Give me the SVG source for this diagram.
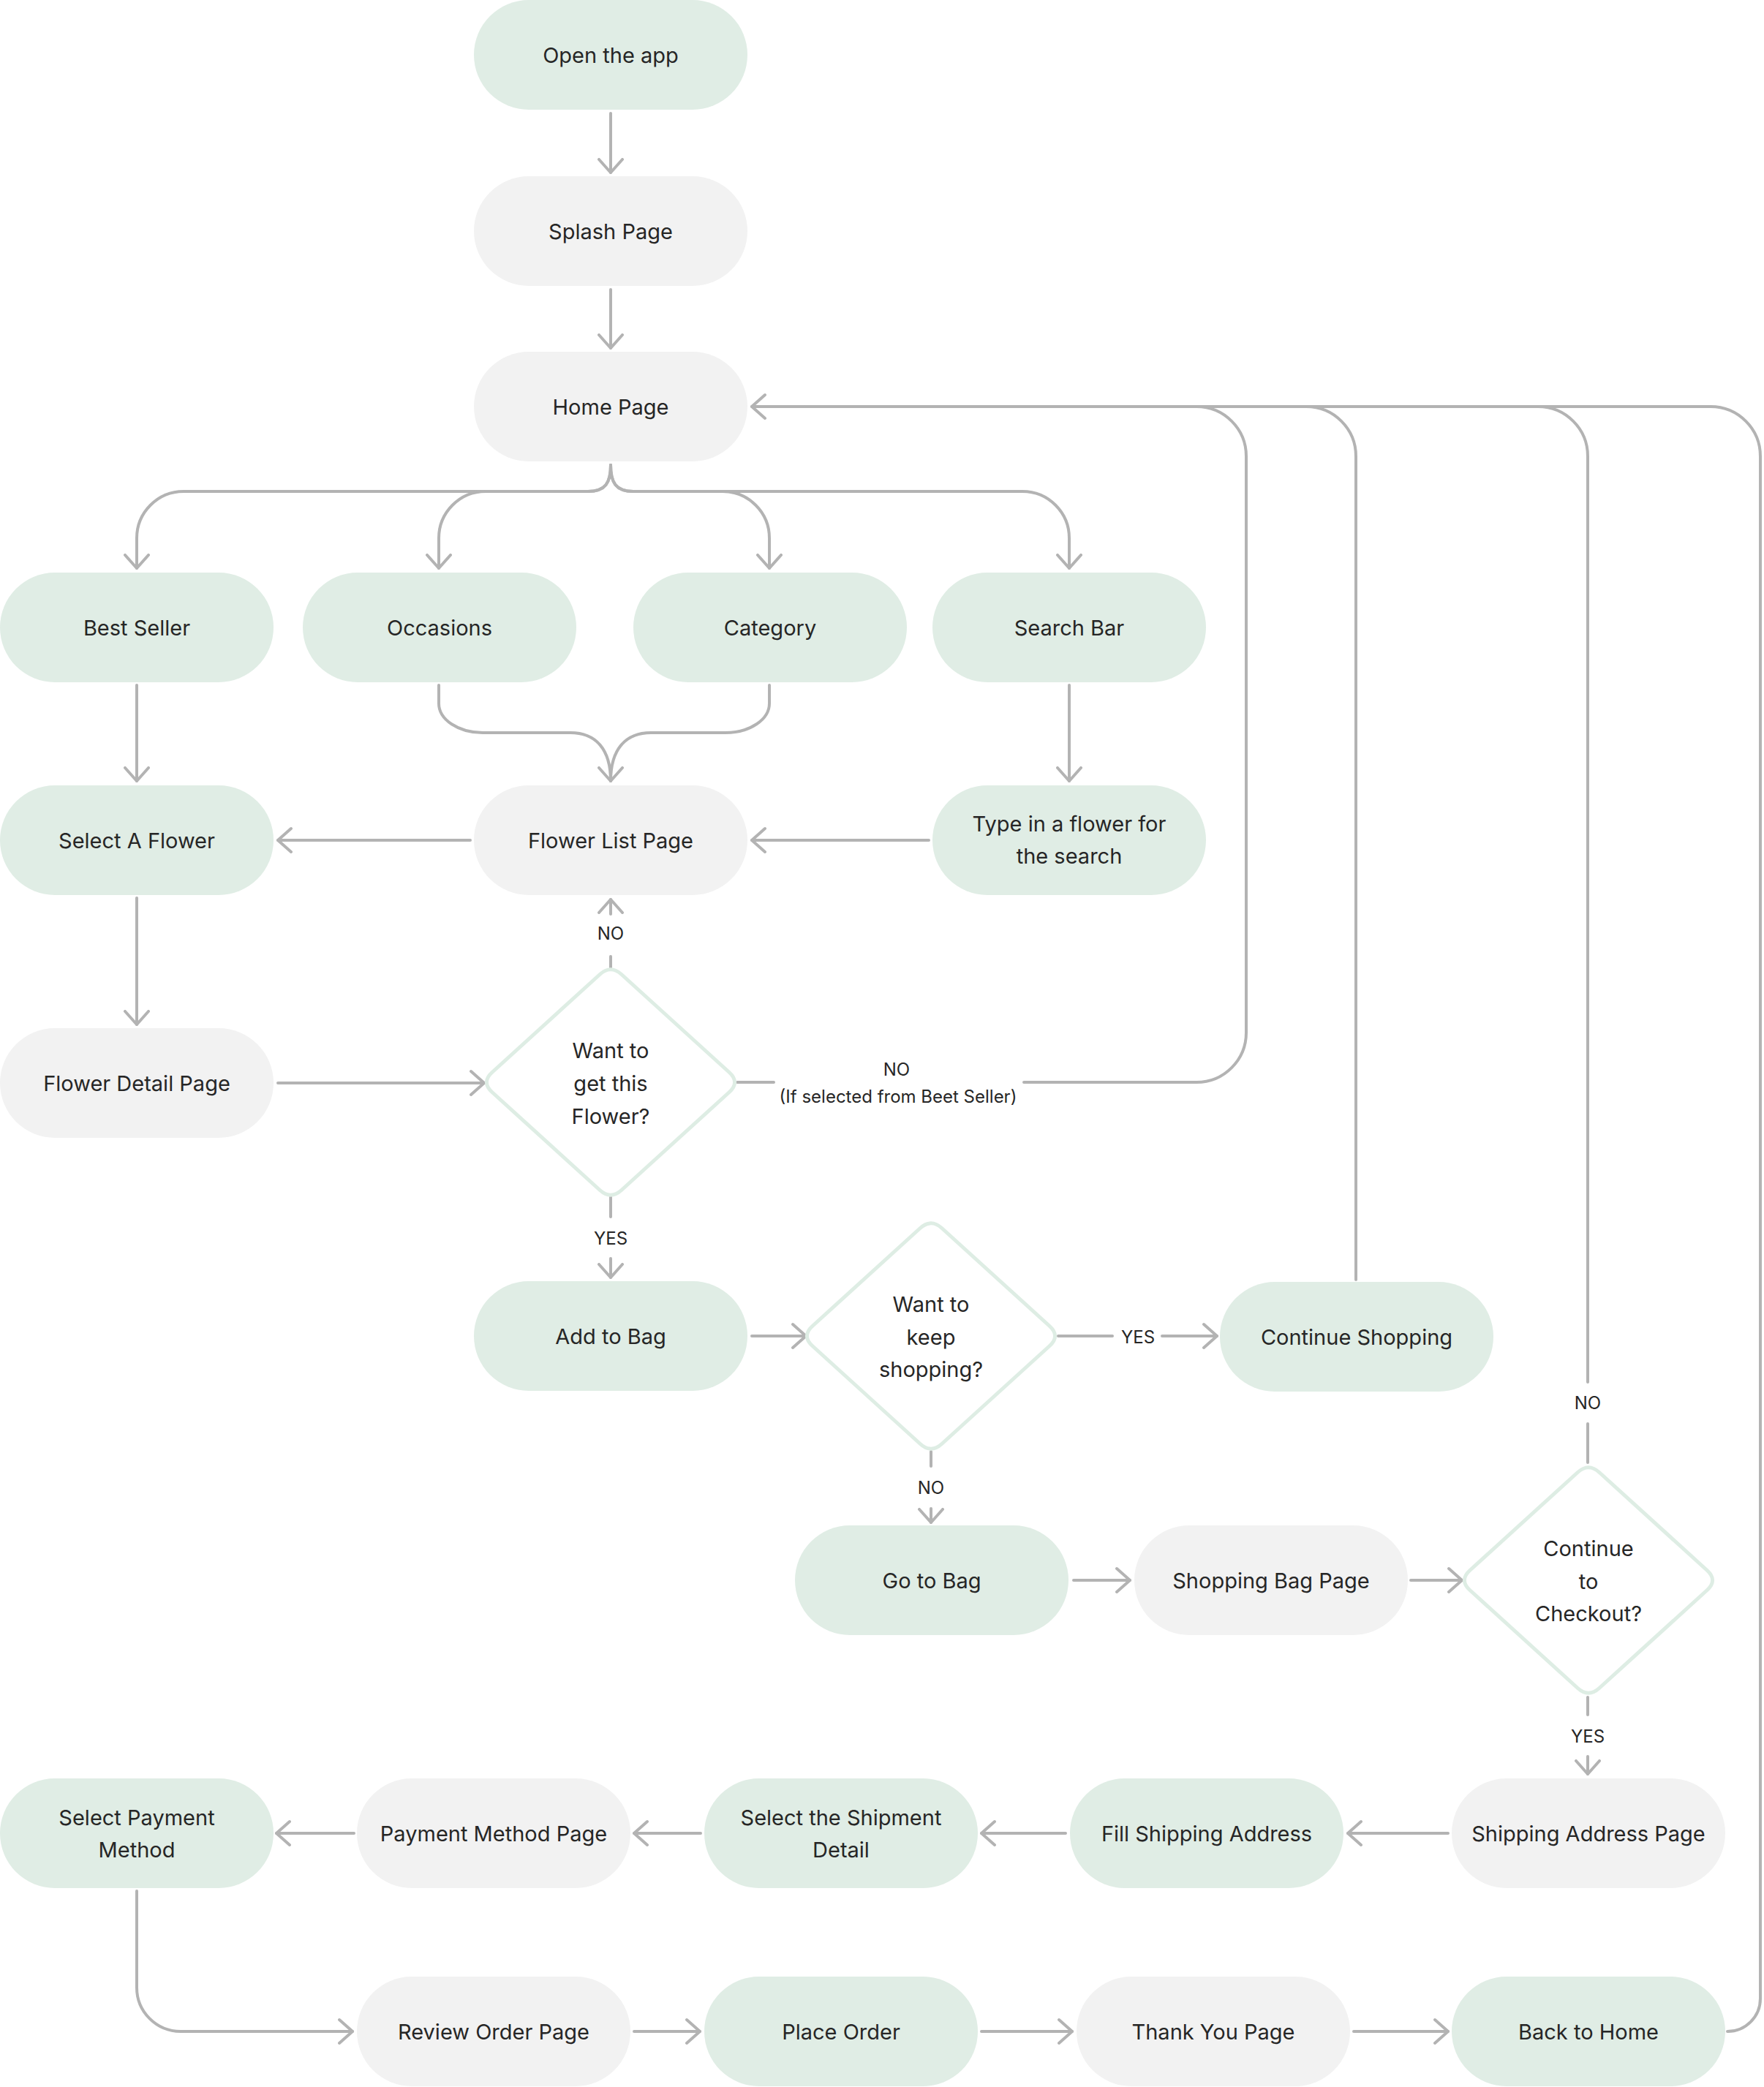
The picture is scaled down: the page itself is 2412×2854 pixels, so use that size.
<svg xmlns="http://www.w3.org/2000/svg" width="2412" height="2854" viewBox="0 0 2412 2854">
<style>
.g{fill:#e0ede5}
.w{fill:#f2f2f2}
.t{font-family:Inter,"Noto Sans","Liberation Sans",sans-serif;font-size:29px;fill:#262626;text-anchor:middle;dominant-baseline:central}
.l{font-family:Inter,"Noto Sans","Liberation Sans",sans-serif;font-size:24px;fill:#262626;text-anchor:middle;dominant-baseline:central}
.c{fill:none;stroke:#b3b3b3;stroke-width:4;stroke-linecap:round;stroke-linejoin:round}
.d{fill:#ffffff;stroke:#deede4;stroke-width:5}
</style>
<defs>
<marker id="ah" viewBox="0 0 40 40" markerWidth="40" markerHeight="40" refX="20" refY="20" orient="auto" markerUnits="userSpaceOnUse">
<path d="M2,4 L20,20 L2,36" fill="none" stroke="#b3b3b3" stroke-width="4" stroke-linecap="round" stroke-linejoin="round"/>
</marker>
<path id="dia" d="M14.8,-147.5 L162.2,-13.5 Q177,0 162.2,13.5 L14.8,147.5 Q0,161 -14.8,147.5 L-162.2,13.5 Q-177,0 -162.2,-13.5 L-14.8,-147.5 Q0,-161 14.8,-147.5 Z"/>
</defs>
<g id="connectors">
<path class="c" d="M835,155 V236" marker-end="url(#ah)"/>
<path class="c" d="M835,396 V476" marker-end="url(#ah)"/>
<path class="c" d="M835,636 C835,660 828,672 804,672 H251 A64,64 0 0 0 187,736 V777" marker-end="url(#ah)"/>
<path class="c" d="M835,636 C835,660 828,672 804,672 H664 A64,64 0 0 0 600,736 V777" marker-end="url(#ah)"/>
<path class="c" d="M835,636 C835,660 842,672 866,672 H988 A64,64 0 0 1 1052,736 V777" marker-end="url(#ah)"/>
<path class="c" d="M835,636 C835,660 842,672 866,672 H1398 A64,64 0 0 1 1462,736 V777" marker-end="url(#ah)"/>
<path class="c" d="M187,937 V1068" marker-end="url(#ah)"/>
<path class="c" d="M1462,937 V1068" marker-end="url(#ah)"/>
<path class="c" d="M600,937 V962 A60,40 0 0 0 660,1002 H780 C815,1002 835,1025 835,1068" marker-end="url(#ah)"/>
<path class="c" d="M1052,937 V962 A60,40 0 0 1 992,1002 H890 C855,1002 835,1025 835,1068"/>
<path class="c" d="M643,1149 H380" marker-end="url(#ah)"/>
<path class="c" d="M1270,1149 H1028" marker-end="url(#ah)"/>
<path class="c" d="M187,1228 V1401" marker-end="url(#ah)"/>
<path class="c" d="M380,1481 H662" marker-end="url(#ah)"/>
<path class="c" d="M835,1308 V1323"/>
<path class="c" d="M835,1250 V1230" marker-end="url(#ah)"/>
<path class="c" d="M1008,1480 H1058"/>
<path class="c" d="M1400,1480 H1636 A68,68 0 0 0 1704,1412 V624 A68,68 0 0 0 1636,556 H1028" marker-end="url(#ah)"/>
<path class="c" d="M1854,1750 V624 A68,68 0 0 0 1786,556 H1100"/>
<path class="c" d="M2171,2000 V1947"/>
<path class="c" d="M2171,1890 V624 A68,68 0 0 0 2103,556 H1100"/>
<path class="c" d="M2362,2778 A45,45 0 0 0 2407,2733 V624 A68,68 0 0 0 2339,556 H1100"/>
<path class="c" d="M835,1637 V1664"/>
<path class="c" d="M835,1721 V1747" marker-end="url(#ah)"/>
<path class="c" d="M1028,1827 H1102" marker-end="url(#ah)"/>
<path class="c" d="M1447,1827 H1521"/>
<path class="c" d="M1589,1827 H1664" marker-end="url(#ah)"/>
<path class="c" d="M1273,1985 V2005"/>
<path class="c" d="M1273,2063 V2082" marker-end="url(#ah)"/>
<path class="c" d="M1468,2161 H1545" marker-end="url(#ah)"/>
<path class="c" d="M1929,2161 H1999" marker-end="url(#ah)"/>
<path class="c" d="M2171,2321 V2345"/>
<path class="c" d="M2171,2402 V2426" marker-end="url(#ah)"/>
<path class="c" d="M1980,2507 H1843" marker-end="url(#ah)"/>
<path class="c" d="M1457,2507 H1342" marker-end="url(#ah)"/>
<path class="c" d="M958,2507 H867" marker-end="url(#ah)"/>
<path class="c" d="M484,2507 H378" marker-end="url(#ah)"/>
<path class="c" d="M187,2586 V2718 A60,60 0 0 0 247,2778 H482" marker-end="url(#ah)"/>
<path class="c" d="M867,2778 H957" marker-end="url(#ah)"/>
<path class="c" d="M1342,2778 H1466" marker-end="url(#ah)"/>
<path class="c" d="M1851,2778 H1980" marker-end="url(#ah)"/>
<text class="l" x="835" y="1276">NO</text>
<text class="l" x="1226" y="1462">NO</text>
<text class="l" x="1228" y="1499">(If selected from Beet Seller)</text>
<text class="l" x="835" y="1693">YES</text>
<text class="l" x="1556" y="1828">YES</text>
<text class="l" x="1273" y="2034">NO</text>
<text class="l" x="2171" y="1918">NO</text>
<text class="l" x="2171" y="2374">YES</text>
</g>
<g id="n-open"><rect class="g" x="648" y="0" width="374" height="150" rx="75"/><text class="t" x="835" y="75">Open the app</text></g>
<g id="n-splash"><rect class="w" x="648" y="241" width="374" height="150" rx="75"/><text class="t" x="835" y="316">Splash Page</text></g>
<g id="n-home"><rect class="w" x="648" y="481" width="374" height="150" rx="75"/><text class="t" x="835" y="556">Home Page</text></g>
<g id="n-bestseller"><rect class="g" x="0" y="783" width="374" height="150" rx="75"/><text class="t" x="187" y="858">Best Seller</text></g>
<g id="n-occasions"><rect class="g" x="414" y="783" width="374" height="150" rx="75"/><text class="t" x="601" y="858">Occasions</text></g>
<g id="n-category"><rect class="g" x="866" y="783" width="374" height="150" rx="75"/><text class="t" x="1053" y="858">Category</text></g>
<g id="n-search"><rect class="g" x="1275" y="783" width="374" height="150" rx="75"/><text class="t" x="1462" y="858">Search Bar</text></g>
<g id="n-selectflower"><rect class="g" x="0" y="1074" width="374" height="150" rx="75"/><text class="t" x="187" y="1149">Select A Flower</text></g>
<g id="n-flowerlist"><rect class="w" x="648" y="1074" width="374" height="150" rx="75"/><text class="t" x="835" y="1149">Flower List Page</text></g>
<g id="n-typein"><rect class="g" x="1275" y="1074" width="374" height="150" rx="75"/><text class="t" x="1462" y="1126">Type in a flower for</text><text class="t" x="1462" y="1170">the search</text></g>
<g id="n-detail"><rect class="w" x="0" y="1406" width="374" height="150" rx="75"/><text class="t" x="187" y="1481">Flower Detail Page</text></g>
<g id="n-want"><use href="#dia" class="d" transform="translate(835,1480)"/><text class="t" x="835" y="1436">Want to</text><text class="t" x="835" y="1481">get this</text><text class="t" x="835" y="1526">Flower?</text></g>
<g id="n-addbag"><rect class="g" x="648" y="1752" width="374" height="150" rx="75"/><text class="t" x="835" y="1827">Add to Bag</text></g>
<g id="n-keep"><use href="#dia" class="d" transform="translate(1273,1827)"/><text class="t" x="1273" y="1783">Want to</text><text class="t" x="1273" y="1828">keep</text><text class="t" x="1273" y="1872">shopping?</text></g>
<g id="n-continue"><rect class="g" x="1668" y="1753" width="374" height="150" rx="75"/><text class="t" x="1855" y="1828">Continue Shopping</text></g>
<g id="n-gobag"><rect class="g" x="1087" y="2086" width="374" height="150" rx="75"/><text class="t" x="1274" y="2161">Go to Bag</text></g>
<g id="n-bagpage"><rect class="w" x="1551" y="2086" width="374" height="150" rx="75"/><text class="t" x="1738" y="2161">Shopping Bag Page</text></g>
<g id="n-checkout"><use href="#dia" class="d" transform="translate(2172,2161)"/><text class="t" x="2172" y="2117">Continue</text><text class="t" x="2172" y="2162">to</text><text class="t" x="2172" y="2206">Checkout?</text></g>
<g id="n-shipaddr"><rect class="w" x="1985" y="2432" width="374" height="150" rx="75"/><text class="t" x="2172" y="2507">Shipping Address Page</text></g>
<g id="n-fillship"><rect class="g" x="1463" y="2432" width="374" height="150" rx="75"/><text class="t" x="1650" y="2507">Fill Shipping Address</text></g>
<g id="n-shipment"><rect class="g" x="963" y="2432" width="374" height="150" rx="75"/><text class="t" x="1150" y="2485">Select the Shipment</text><text class="t" x="1150" y="2529">Detail</text></g>
<g id="n-paypage"><rect class="w" x="488" y="2432" width="374" height="150" rx="75"/><text class="t" x="675" y="2507">Payment Method Page</text></g>
<g id="n-selectpay"><rect class="g" x="0" y="2432" width="374" height="150" rx="75"/><text class="t" x="187" y="2485">Select Payment</text><text class="t" x="187" y="2529">Method</text></g>
<g id="n-review"><rect class="w" x="488" y="2703" width="374" height="150" rx="75"/><text class="t" x="675" y="2778">Review Order Page</text></g>
<g id="n-place"><rect class="g" x="963" y="2703" width="374" height="150" rx="75"/><text class="t" x="1150" y="2778">Place Order</text></g>
<g id="n-thanks"><rect class="w" x="1472" y="2703" width="374" height="150" rx="75"/><text class="t" x="1659" y="2778">Thank You Page</text></g>
<g id="n-backhome"><rect class="g" x="1985" y="2703" width="374" height="150" rx="75"/><text class="t" x="2172" y="2778">Back to Home</text></g>
</svg>
